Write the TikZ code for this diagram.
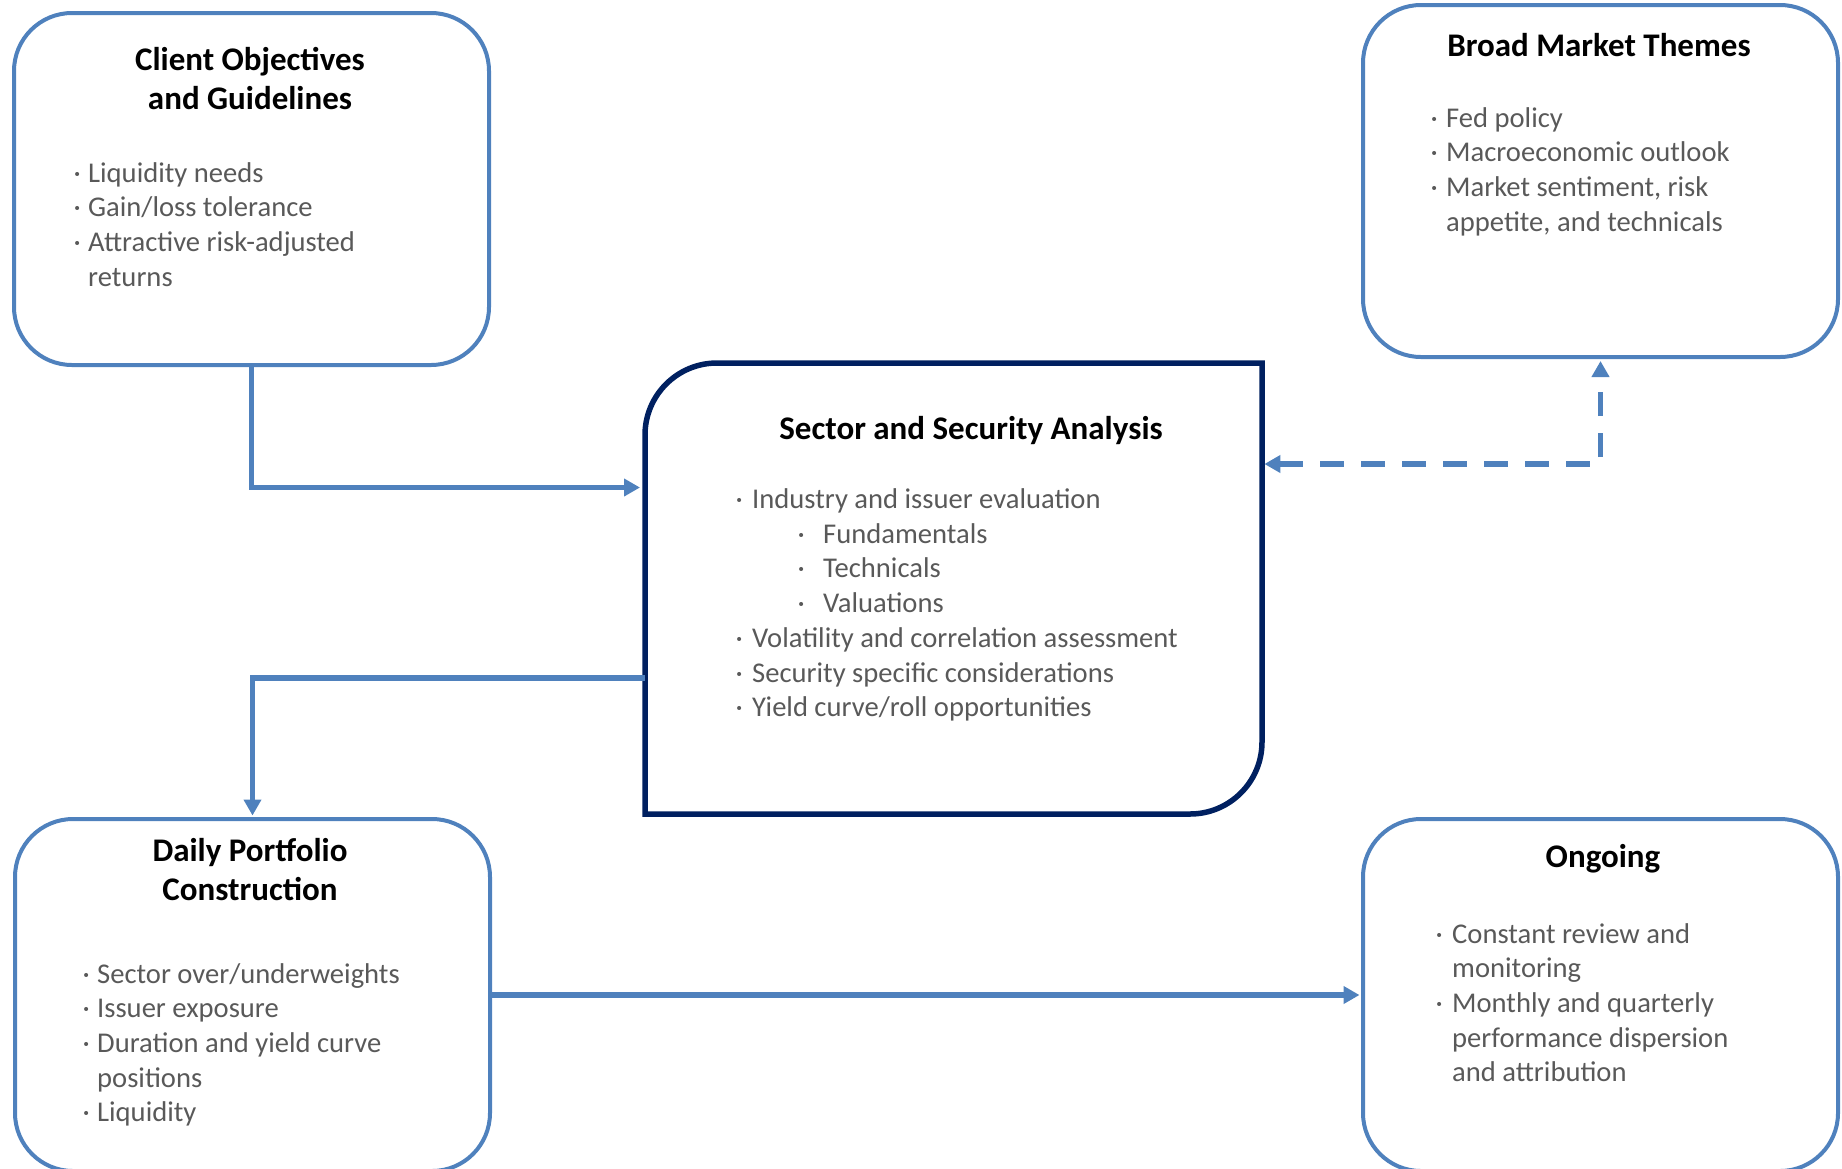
\documentclass[tikz,border=0pt]{standalone}
\usepackage{fontspec}
\setmainfont{Carlito}
\usetikzlibrary{arrows.meta,calc}
\definecolor{lineblue}{HTML}{4F81BD}
\definecolor{navyline}{HTML}{002060}
\definecolor{txtgray}{HTML}{595959}
\newcommand\bul[1][8pt]{\llap{·\hspace{#1}}}
\tikzset{
  box/.style={draw=lineblue, line width=4pt, rounded corners=58pt, inner sep=0pt,
    minimum width=475pt, minimum height=352pt, anchor=north west},
  ttl/.style={font=\fontsize{33}{39}\selectfont\bfseries, text=black, inner sep=0pt, anchor=base},
  blist/.style={font=\fontsize{28.6}{34.7}\selectfont, text=txtgray, inner sep=0pt, anchor=base west},
  conn/.style={draw=lineblue, line width=5.5pt, -{Triangle[length=16pt,width=17pt]}},
  ssaline/.style={draw=navyline, line width=5.5pt},
}
\begin{document}
\begin{tikzpicture}[x=1pt,y=-1pt]
\useasboundingbox (0,0) rectangle (1842,1168);
% boxes
\node[box] (cog) at (12,11) {};
\node[box] (bmt) at (1361,3) {};
\node[box] (dpc) at (13,817) {};
\node[box] (ong) at (1361,817) {};
\node[inner sep=0pt, minimum width=617pt, minimum height=451pt, anchor=north west] (ssa) at (645,363) {};
\draw[ssaline] (645,814) -- (645,435) .. controls (645,395.23) and (677.23,363) .. (717,363)
  -- (1262,363) -- (1262,742) .. controls (1262,781.77) and (1229.77,814) .. (1190,814) -- cycle;
% titles
\node[ttl] (cogT) at (250,70) {\begin{tabular}[t]{@{}c@{}}Client Objectives\\and Guidelines\end{tabular}};
\node[ttl] (bmtT) at (1599,56) {Broad Market Themes};
\node[ttl] (ssaT) at (971,439) {Sector and Security Analysis};
\node[ttl] (dpcT) at (250,861) {\begin{tabular}[t]{@{}c@{}}Daily Portfolio\\Construction\end{tabular}};
\node[ttl] (ongT) at (1603,867) {Ongoing};
% bullet lists
\node[blist] (cogL) at (88,182) {\begin{tabular}[t]{@{}l@{}}
\bul[7.4pt]Liquidity needs\\
\bul[7.4pt]Gain/loss tolerance\\
\bul[7.4pt]Attractive risk-adjusted\\
returns\end{tabular}};
\node[blist] (bmtL) at (1446,127) {\begin{tabular}[t]{@{}l@{}}
\bul[8.4pt]Fed policy\\
\bul[8.4pt]Macroeconomic outlook\\
\bul[8.4pt]Market sentiment, risk\\
appetite, and technicals\end{tabular}};
\node[blist] (ssaL) at (752,508.5) {\begin{tabular}[t]{@{}l@{}}
\bul[9.4pt]Industry and issuer evaluation\\
\hspace{71pt}\bul[18.4pt]Fundamentals\\
\hspace{71pt}\bul[18.4pt]Technicals\\
\hspace{71pt}\bul[18.4pt]Valuations\\
\bul[9.4pt]Volatility and correlation assessment\\
\bul[9.4pt]Security specific considerations\\
\bul[9.4pt]Yield curve/roll opportunities\end{tabular}};
\node[blist] (dpcL) at (97,983) {\begin{tabular}[t]{@{}l@{}}
\bul[7.4pt]Sector over/underweights\\
\bul[7.4pt]Issuer exposure\\
\bul[7.4pt]Duration and yield curve\\
positions\\
\bul[7.4pt]Liquidity\end{tabular}};
\node[blist] (ongL) at (1452,943) {\begin{tabular}[t]{@{}l@{}}
\bul[9.4pt]Constant review and\\
monitoring\\
\bul[9.4pt]Monthly and quarterly\\
performance dispersion\\
and attribution\end{tabular}};
% connectors
\draw[conn, shorten >=5pt] (cog.south) |- ($(ssa.north west)+(0,124.5)$);
\draw[conn, shorten >=1.5pt] ($(ssa.north west)+(0,315)$) -| (dpc.north);
\draw[conn, shorten >=1.5pt] (dpc.east) -- (ong.west);
\draw[conn, {Triangle[length=16pt,width=17pt]}-{Triangle[length=16pt,width=17pt]},
  dash pattern=on 24pt off 17pt, shorten <=2pt, shorten >=2pt]
  ($(ssa.north east)+(0,101)$) -| (bmt.south);
\end{tikzpicture}
\end{document}
